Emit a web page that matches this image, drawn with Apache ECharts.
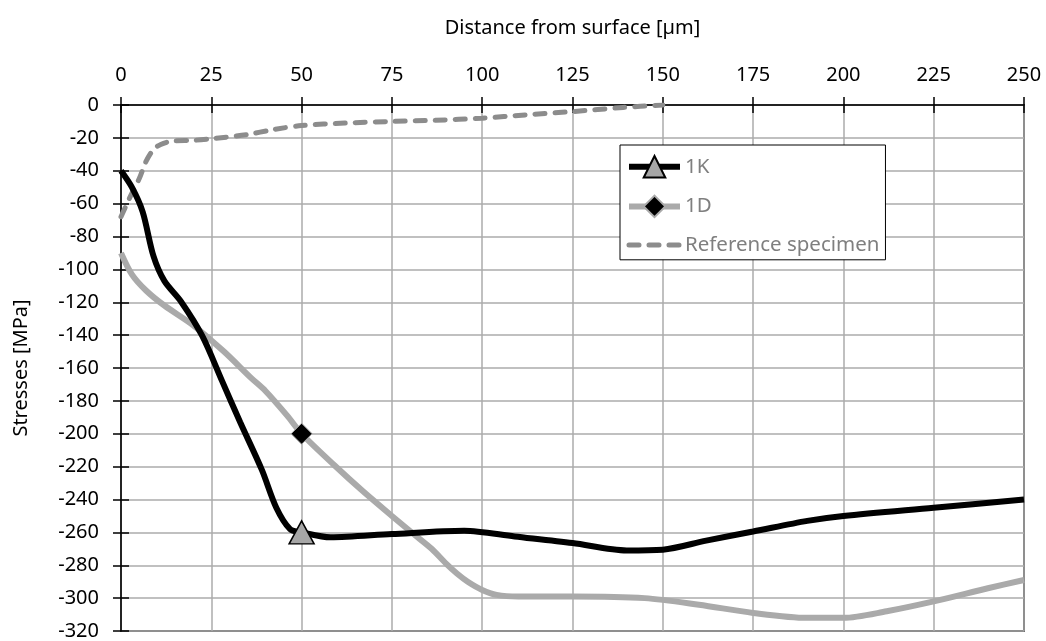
<!DOCTYPE html>
<html>
<head>
<meta charset="utf-8">
<script src="https://cdn.jsdelivr.net/npm/echarts@6/dist/echarts.min.js"></script>
<style>
    html, body { margin: 0; padding: 0; background: #fff; }
    #stress-chart { width: 1046px; height: 641px; }
</style>
</head>
<body>
<div id="stress-chart"></div>
<script>
// distance from surface [µm] and stress [MPa]
var k1Depth = [0, 3, 6, 9, 12, 16.6, 22.5, 28, 33, 39, 43, 46.8, 50, 58, 75, 95, 109, 125, 140, 150, 162, 175, 190, 200, 225, 250];
var k1Stress = [-40, -50, -65, -92, -107, -119.5, -140.5, -168, -193, -222, -245, -258, -260, -263, -261, -259, -262.5, -266.5, -271, -270.5, -265, -259.5, -253, -250, -245, -240];

var d1Depth = [0, 3, 7, 12, 20, 28.5, 36, 40, 46, 50, 59, 67, 75, 81, 86, 90, 93, 96, 100, 104, 110, 125, 145, 160, 175, 190, 200, 212, 225, 240, 250];
var d1Stress = [-90, -103, -113, -122, -134, -150, -166, -174, -189, -200, -219, -235, -250, -261, -270, -279, -285, -290, -295, -298, -299, -299, -300, -304, -309, -312, -312, -308, -302, -294, -289];

var refDepth = [0, 2.5, 5, 7, 9, 11, 14, 20, 25, 35, 42, 50, 62, 75, 87, 100, 112, 125, 139, 150];
var refStress = [-68, -56, -45, -34, -27, -24, -22, -21.5, -20.5, -18, -15, -12.5, -11, -10, -9.3, -8, -6, -4, -1.5, 0];

// only one marker per curve is shown, at 50 µm
var markerDepth = 50;

var fontName = 'Noto Sans';

function pairs(xs, ys, marked) {
    var out = [];
    for (var i = 0; i < xs.length; i++) {
        var item = { value: [xs[i], ys[i]] };
        if (!marked || xs[i] !== markerDepth) {
            item.symbol = 'none';
        }
        out.push(item);
    }
    return out;
}

function loadChart() {
    var chart = echarts.init(document.getElementById('stress-chart'));
    var option = {
        animation: false,
        backgroundColor: '#fff',
        textStyle: { fontFamily: fontName },
        grid: {
            left: 121, top: 105, right: 22, bottom: 9,
            show: true, borderColor: '#000', borderWidth: 1.5
        },
        legend: {
            orient: 'vertical',
            left: 620, top: 145,
            backgroundColor: '#fff',
            borderColor: '#000', borderWidth: 1,
            padding: [10, 6, 4, 6],
            itemWidth: 51, itemHeight: 27, itemGap: 16,
            lineStyle: { width: 'inherit' },
            textStyle: { color: '#7f7f7f', fontSize: 20.5, fontFamily: fontName },
            data: ['1K', '1D', 'Reference specimen']
        },
        xAxis: [{
            type: 'value', position: 'top',
            min: 0, max: 250, interval: 25,
            name: 'Distance from surface [µm]',
            nameLocation: 'middle', nameGap: 67,
            nameTextStyle: { color: '#000', fontSize: 20, fontFamily: fontName },
            axisLine: { show: true, lineStyle: { color: '#000', width: 1.5 } },
            axisTick: { show: true, length: 8, lineStyle: { color: '#000', width: 1.5 } },
            axisLabel: { color: '#000', fontSize: 20, margin: 20, fontFamily: fontName },
            splitLine: { show: true, lineStyle: { color: '#ababab', width: 1.5 } }
        }, {
            type: 'value', position: 'top',
            min: 0, max: 250, interval: 25,
            axisLine: { show: false },
            axisTick: { show: true, inside: true, length: 8, lineStyle: { color: '#000', width: 1.5 } },
            axisLabel: { show: false },
            splitLine: { show: false }
        }],
        yAxis: [{
            type: 'value', position: 'left',
            min: -320, max: 0, interval: 20,
            name: 'Stresses [MPa]',
            nameLocation: 'middle', nameGap: 90,
            nameTextStyle: { color: '#000', fontSize: 20, fontFamily: fontName },
            axisLine: { show: true, lineStyle: { color: '#000', width: 1.5 } },
            axisTick: { show: true, length: 8, lineStyle: { color: '#000', width: 1.5 } },
            axisLabel: { color: '#000', fontSize: 20, margin: 22, fontFamily: fontName },
            splitLine: { show: true, lineStyle: { color: '#ababab', width: 1.5 } }
        }, {
            type: 'value', position: 'left',
            min: -320, max: 0, interval: 20,
            axisLine: { show: false },
            axisTick: { show: true, inside: true, length: 8, lineStyle: { color: '#000', width: 1.5 } },
            axisLabel: { show: false },
            splitLine: { show: false }
        }],
        series: [{
            name: '1K',
            type: 'line',
            smooth: 0.3,
            symbol: 'triangle',
            symbolSize: [25, 23],
            showAllSymbol: true,
            z: 3,
            itemStyle: { color: '#a6a6a6', borderColor: '#000', borderWidth: 1.5 },
            lineStyle: { color: '#000', width: 6 },
            data: pairs(k1Depth, k1Stress, true)
        }, {
            name: '1D',
            type: 'line',
            smooth: 0.3,
            symbol: 'diamond',
            symbolSize: 21,
            showAllSymbol: true,
            z: 2,
            itemStyle: { color: '#000', borderColor: '#aaa', borderWidth: 1 },
            lineStyle: { color: '#aaaaaa', width: 6 },
            data: pairs(d1Depth, d1Stress, true)
        }, {
            name: 'Reference specimen',
            type: 'line',
            smooth: 0.3,
            symbol: 'circle',
            z: 1,
            itemStyle: { color: 'rgba(0,0,0,0)', borderColor: 'rgba(0,0,0,0)', borderWidth: 0 },
            lineStyle: { color: '#8c8c8c', width: 5, type: [10, 10], cap: 'round' },
            data: pairs(refDepth, refStress, false)
        }]
    };
    chart.setOption(option);
}

loadChart();
</script>
</body>
</html>
